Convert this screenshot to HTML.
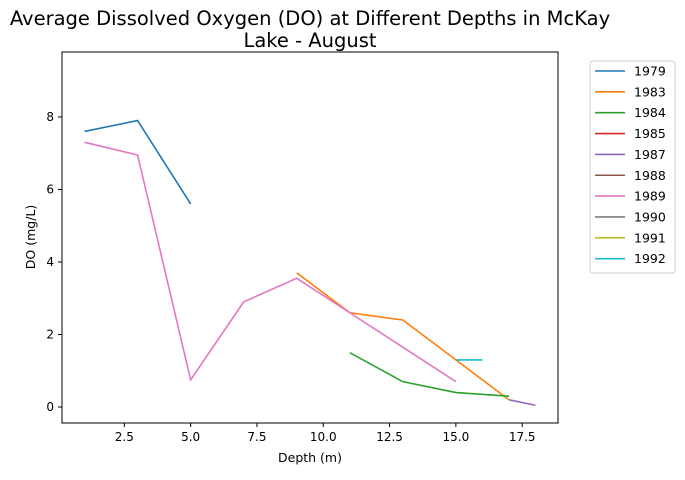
<!DOCTYPE html>
<html><head><meta charset="utf-8"><style>
body{margin:0;background:#fff;font-family:"Liberation Sans","DejaVu Sans",sans-serif;}
</style></head><body>
<svg id="chart" width="685" height="475" xmlns="http://www.w3.org/2000/svg" font-family="DejaVu Sans, Liberation Sans, sans-serif">
<text x="310" y="25" font-size="19.5" text-anchor="middle">Average Dissolved Oxygen (DO) at Different Depths in McKay</text>
<text x="310" y="47" font-size="19.5" text-anchor="middle">Lake - August</text>
<g id="plot"></g>
<rect x="62" y="52" width="496" height="371" fill="none" stroke="#000" stroke-width="1"/>
<text x="310" y="462" font-size="12.5" text-anchor="middle">Depth (m)</text>
<text transform="translate(35,237) rotate(-90)" font-size="12.5" text-anchor="middle">DO (mg/L)</text>
<g id="legend"></g>
</svg>
<script>
const years = ["1979","1983","1984","1985","1987","1988","1989","1990","1991","1992"];
const colors = ["#1f77b4","#ff7f0e","#2ca02c","#d62728","#9467bd","#8c564b","#e377c2","#7f7f7f","#bcbd22","#17becf"];
const depth1979 = [1,3,5];          const do1979 = [7.6,7.9,5.6];
const depth1983 = [9,11,13,15,17];  const do1983 = [3.7,2.6,2.4,1.3,0.2];
const depth1984 = [11,13,15,17];    const do1984 = [1.5,0.7,0.4,0.3];
const depth1985 = [];               const do1985 = [];
const depth1987 = [17,18];          const do1987 = [0.2,0.05];
const depth1988 = [];               const do1988 = [];
const depth1989 = [1,3,5,7,9,11,13,15]; const do1989 = [7.3,6.95,0.75,2.9,3.55,2.6,1.65,0.7];
const depth1990 = [];               const do1990 = [];
const depth1991 = [];               const do1991 = [];
const depth1992 = [15,16];          const do1992 = [1.3,1.3];
const xTicks = [2.5,5.0,7.5,10.0,12.5,15.0,17.5];
const yTicks = [0,2,4,6,8];
const series = [[depth1979,do1979],[depth1983,do1983],[depth1984,do1984],[depth1985,do1985],[depth1987,do1987],[depth1988,do1988],[depth1989,do1989],[depth1990,do1990],[depth1991,do1991],[depth1992,do1992]];
const X0=62,X1=558,Y0=52,Y1=423, xmin=0.15,xmax=18.85,ymin=-0.44,ymax=9.79;
const xs=v=>X0+(v-xmin)/(xmax-xmin)*(X1-X0);
const ys=v=>Y1-(v-ymin)/(ymax-ymin)*(Y1-Y0);
const NS="http://www.w3.org/2000/svg";
const plot=document.getElementById('plot');
function mk(t,a,p){const e=document.createElementNS(NS,t);for(const k in a)e.setAttribute(k,a[k]);p.appendChild(e);return e;}
xTicks.forEach(v=>{
  const l=mk('line',{x1:xs(v),x2:xs(v),y1:Y1,y2:Y1+4,stroke:'#000'},plot);
  
  
  const t=mk('text',{x:xs(v),y:Y1+18,'font-size':12,'text-anchor':'middle'},plot);t.textContent=v.toFixed(1);
  
  
});
yTicks.forEach(v=>{
  const l=mk('line',{x1:X0-4,x2:X0,y1:ys(v),y2:ys(v),stroke:'#000'},plot);
  
  
  const t=mk('text',{x:X0-8,y:ys(v)+4,'font-size':12,'text-anchor':'end'},plot);t.textContent=v;
  
  
});
series.forEach((s,i)=>{
  if(!s[0].length)return;
  const pts=s[0].map((d,j)=>xs(d)+','+ys(s[1][j])).join(' ');
  const p=mk('polyline',{points:pts,fill:'none',stroke:colors[i],'stroke-width':1.6},plot);
  
  
});
const lg=document.getElementById('legend');
const box=mk('rect',{x:590,y:61,width:85,height:212,fill:'#fff',stroke:'#ccc',rx:3},lg);


years.forEach((y,i)=>{
  const yy=71+i*20.85;
  const g=mk('g',{},lg);
  
  
  mk('line',{x1:595,x2:625,y1:yy,y2:yy,stroke:colors[i],'stroke-width':1.6},g);
  const t=mk('text',{x:634,y:yy+4.5,'font-size':12.5},g);t.textContent=y;
});
</script>
</body></html>
